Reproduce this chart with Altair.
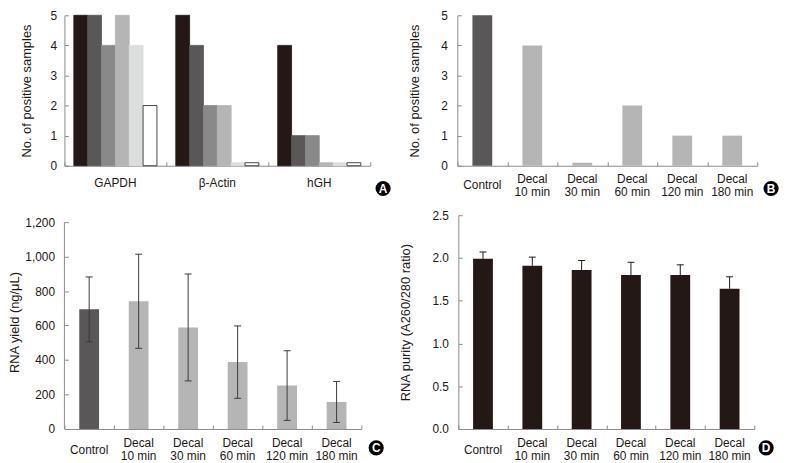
import altair as alt
import pandas as pd

# ---------------- data ----------------
genes = ["GAPDH", "β-Actin", "hGH"]
conditions = ["Control", "Decal 10 min", "Decal 30 min", "Decal 60 min",
              "Decal 120 min", "Decal 180 min"]
gapdh_positive = [5, 5, 4, 5, 4, 2]
bactin_positive = [5, 4, 2, 2, 0.1, 0.1]
hgh_positive = [4, 1, 1, 0.1, 0.1, 0.1]
panel_b_positive = [5, 4, 0.1, 2, 1, 1]
yield_mean = [694, 741, 589, 388, 252, 157]
yield_sd = [188, 273, 310, 210, 202, 119]
purity_mean = [1.99, 1.91, 1.86, 1.80, 1.80, 1.64]
purity_sd = [0.08, 0.10, 0.11, 0.15, 0.12, 0.14]

count_ticks = [0, 1, 2, 3, 4, 5]
yield_ticks = [0, 200, 400, 600, 800, 1000, 1200]
purity_ticks = [0, 0.5, 1.0, 1.5, 2.0, 2.5]

# ---------------- style ----------------
shade_fill = ["#231815", "#595757", "#898989", "#b5b5b6", "#dcdddd", "#ffffff"]
shade_stroke = ["#231815", "#595757", "#898989", "#b5b5b6", "#dcdddd", "#231815"]
CONTROL_GREY = "#595757"
DECAL_GREY = "#b5b5b6"
FONT = "Liberation Sans"
TEXT = "#231815"
AXIS = "#8c8c8c"


def x_axis(pad, labels=True):
    return alt.Axis(title=None, labelAngle=0, ticks=False, tickSize=0, domainColor=AXIS,
                    domainWidth=1, labelPadding=pad, labelBaseline="middle",
                    labelFont=FONT, labelFontSize=12, labelColor=TEXT,
                    labelOverlap=False, grid=False, labels=labels)


def y_axis(values, fmt, title, title_pad, label_pad=10, domain=True):
    return alt.Axis(values=values, format=fmt, title=title, titlePadding=title_pad,
                    titleFont=FONT, titleFontSize=13, titleFontWeight="normal",
                    titleColor=TEXT, labelPadding=label_pad, labelFont=FONT,
                    labelFontSize=12, labelColor=TEXT, ticks=False, tickSize=0,
                    domain=domain, domainColor=AXIS, domainWidth=1, grid=False,
                    labelOverlap=False)


def inner_x_axis(H):
    return alt.Axis(orient="top", offset=-H, labels=False, domain=False, ticks=True,
                    tickSize=4, tickColor=AXIS, tickBand="extent", title=None,
                    grid=False, minExtent=0)


def inner_y_axis(W, values):
    return alt.Axis(orient="right", offset=-W, labels=False, domain=False, ticks=True,
                    tickSize=4, tickColor=AXIS, values=values, title=None, grid=False,
                    minExtent=0)


def badge(letter, bx, by):
    base = alt.Chart(pd.DataFrame({"letter": [letter]}))
    circ = base.mark_circle(size=235, color="#000000", opacity=1).encode(
        x=alt.value(bx), y=alt.value(by))
    txt = base.mark_text(color="white", font=FONT, fontSize=12, fontWeight="bold",
                         baseline="middle", align="center").encode(
        x=alt.value(bx), y=alt.value(by + 0.5), text="letter:N")
    return [circ, txt]


def cond_labels(H, off):
    """Category labels under the x axis: 'Control' centred, 'Decal / xx min' on two lines."""
    base = alt.Chart(pd.DataFrame({"cond": conditions})).transform_calculate(
        multi="indexof(datum.cond, 'Decal ') == 0 ? 1 : 0",
        first="indexof(datum.cond, 'Decal ') == 0 ? 'Decal' : datum.cond",
        second="indexof(datum.cond, 'Decal ') == 0 ? substring(datum.cond, 6) : ''")
    xenc = alt.X("cond:N", sort=conditions, axis=None)
    style = dict(font=FONT, fontSize=12, color=TEXT, baseline="middle", align="center")
    single = base.transform_filter("datum.multi == 0").mark_text(**style).encode(
        x=xenc, y=alt.value(H + off), text="first:N")
    top = base.transform_filter("datum.multi == 1").mark_text(**style).encode(
        x=xenc, y=alt.value(H + off - 6.5), text="first:N")
    bottom = base.transform_filter("datum.multi == 1").mark_text(**style).encode(
        x=xenc, y=alt.value(H + off + 6.5), text="second:N")
    return [single, top, bottom]


cond_color = alt.condition("datum.cond == 'Control'", alt.value(CONTROL_GREY),
                           alt.value(DECAL_GREY))

# ---------------- panel A ----------------
rows = []
for g, vals in zip(genes, [gapdh_positive, bactin_positive, hgh_positive]):
    for c, v in zip(conditions, vals):
        rows.append({"gene": g, "cond": c, "n": v})
dfA = pd.DataFrame(rows)
WA, HA = 309, 152
xoffA = alt.XOffset("cond:N", sort=conditions,
                    scale=alt.Scale(domain=conditions, paddingInner=0, paddingOuter=0.68))
barsA = alt.Chart(dfA).mark_bar(strokeWidth=0.8).encode(
    x=alt.X("gene:N", sort=genes,
            scale=alt.Scale(domain=genes, paddingInner=0, paddingOuter=0),
            axis=x_axis(17)),
    xOffset=xoffA,
    y=alt.Y("n:Q", scale=alt.Scale(domain=[0, 5], nice=False),
            axis=y_axis(count_ticks, "d", "No. of positive samples", 17, 8)),
    fill=alt.Fill("cond:N", scale=alt.Scale(domain=conditions, range=shade_fill), legend=None),
    stroke=alt.Stroke("cond:N", scale=alt.Scale(domain=conditions, range=shade_stroke), legend=None),
)
ticksA = alt.Chart(dfA).mark_bar(opacity=0).encode(
    x=alt.X("gene:N", sort=genes, axis=inner_x_axis(HA)),
    xOffset=xoffA,
    y=alt.Y("n:Q", axis=inner_y_axis(WA, count_ticks)),
)
A = alt.layer(barsA, ticksA, *badge("A", WA + 13, HA + 23)).resolve_axis(
    x="independent", y="independent").properties(width=WA, height=HA)

# ---------------- panel B ----------------
dfB = pd.DataFrame({"cond": conditions, "n": panel_b_positive})
WB, HB = 303, 152
barsB = alt.Chart(dfB).mark_bar(size=20).encode(
    x=alt.X("cond:N", sort=conditions,
            scale=alt.Scale(domain=conditions, paddingInner=0, paddingOuter=0),
            axis=x_axis(20, labels=False)),
    y=alt.Y("n:Q", scale=alt.Scale(domain=[0, 5], nice=False),
            axis=y_axis(count_ticks, "d", "No. of positive samples", 20)),
    color=cond_color,
)
ticksB = alt.Chart(dfB).mark_bar(opacity=0).encode(
    x=alt.X("cond:N", sort=conditions, axis=inner_x_axis(HB)),
    y=alt.Y("n:Q", axis=inner_y_axis(WB, count_ticks)),
)
B = alt.layer(barsB, ticksB, *cond_labels(HB, 20), *badge("B", WB + 14, HB + 23)).resolve_axis(
    x="independent", y="independent").properties(width=WB, height=HB)

# ---------------- panel C ----------------
dfC = pd.DataFrame({"cond": conditions, "m": yield_mean, "sd": yield_sd})
WC, HC = 300, 216
baseC = alt.Chart(dfC).transform_calculate(
    lo="datum.m - datum.sd", hi="datum.m + datum.sd")
barsC = baseC.mark_bar(size=20).encode(
    x=alt.X("cond:N", sort=conditions,
            scale=alt.Scale(domain=conditions, paddingInner=0, paddingOuter=0),
            axis=x_axis(21, labels=False)),
    y=alt.Y("m:Q", scale=alt.Scale(domain=[0, 1240], nice=False),
            axis=y_axis(yield_ticks, ",.0f", "RNA yield (ng/\u03bcL)", 3, 10, domain=False)),
    color=cond_color,
)
ticksC = baseC.mark_bar(opacity=0).encode(
    x=alt.X("cond:N", sort=conditions, axis=inner_x_axis(HC)),
    y=alt.Y("m:Q", axis=inner_y_axis(WC, yield_ticks)),
)
yaxis_lineC = alt.Chart(pd.DataFrame({"lo": [yield_ticks[0]], "hi": [yield_ticks[-1]]})).mark_rule(
    color=AXIS, strokeWidth=1).encode(x=alt.value(0), y=alt.Y("lo:Q", axis=None), y2="hi:Q")
errC = baseC.mark_rule(color="#3e3a39", strokeWidth=1).encode(
    x=alt.X("cond:N", sort=conditions, axis=None),
    y=alt.Y("lo:Q", axis=None), y2="hi:Q")
capHiC = baseC.mark_tick(color="#3e3a39", size=7, thickness=1, opacity=1).encode(
    x=alt.X("cond:N", sort=conditions, axis=None), y=alt.Y("hi:Q", axis=None))
capLoC = baseC.mark_tick(color="#3e3a39", size=7, thickness=1, opacity=1).encode(
    x=alt.X("cond:N", sort=conditions, axis=None), y=alt.Y("lo:Q", axis=None))
C = alt.layer(barsC, ticksC, yaxis_lineC, errC, capHiC, capLoC, *cond_labels(HC, 21),
              *badge("C", WC + 15, HC + 19)).resolve_axis(
    x="independent", y="independent").properties(width=WC, height=HC)

# ---------------- panel D ----------------
dfD = pd.DataFrame({"cond": conditions, "m": purity_mean, "sd": purity_sd})
WD, HD = 299, 216
baseD = alt.Chart(dfD).transform_calculate(hi="datum.m + datum.sd")
barsD = baseD.mark_bar(size=20, color="#231815").encode(
    x=alt.X("cond:N", sort=conditions,
            scale=alt.Scale(domain=conditions, paddingInner=0, paddingOuter=0),
            axis=x_axis(21, labels=False)),
    y=alt.Y("m:Q", scale=alt.Scale(domain=[0, 2.5], nice=False),
            axis=y_axis(purity_ticks, ".1f", "RNA purity (A260/280 ratio)", 20)),
)
ticksD = baseD.mark_bar(opacity=0).encode(
    x=alt.X("cond:N", sort=conditions, axis=inner_x_axis(HD)),
    y=alt.Y("m:Q", axis=inner_y_axis(WD, purity_ticks)),
)
errD = baseD.mark_rule(color="#231815", strokeWidth=1).encode(
    x=alt.X("cond:N", sort=conditions, axis=None),
    y=alt.Y("m:Q", axis=None), y2="hi:Q")
capD = baseD.mark_tick(color="#231815", size=7, thickness=1, opacity=1).encode(
    x=alt.X("cond:N", sort=conditions, axis=None), y=alt.Y("hi:Q", axis=None))
D = alt.layer(barsD, ticksD, errD, capD, *cond_labels(HD, 21),
              *badge("D", WD + 12, HD + 19)).resolve_axis(
    x="independent", y="independent").properties(width=WD, height=HD)

# ---------------- layout ----------------
row1 = alt.hconcat(A, B, spacing=88, bounds="flush")
row2 = alt.hconcat(C, D, spacing=98, bounds="flush")
chart = alt.vconcat(row1, row2, spacing=11).properties(
    padding={"left": 0, "top": -1, "right": 0, "bottom": 0}
).configure_view(stroke=None).configure_axis(grid=False)

chart.save("out.html", embed_options={"renderer": "svg", "actions": False})
